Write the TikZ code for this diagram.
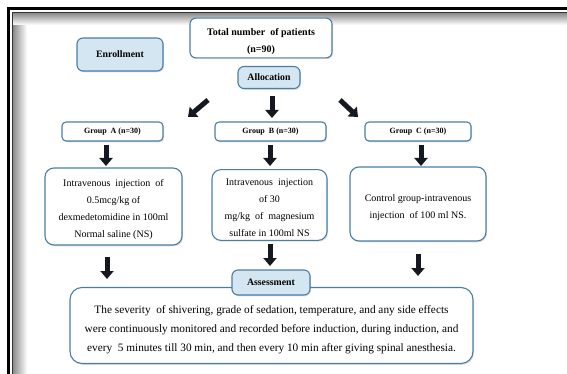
\documentclass[tikz,border=0pt]{standalone}
\usepackage{fontspec}
\setmainfont{Liberation Serif}
\usetikzlibrary{arrows.meta,shadows,calc}
\definecolor{bord}{HTML}{4A7EA5}
\definecolor{lfill}{HTML}{D3E6F2}
\definecolor{arr}{HTML}{141820}
\newcommand{\mytopstrut}[1]{\rule{0pt}{#1}}
\tikzset{
  box/.style={draw=bord, line width=1.1pt, rounded corners=6pt, fill=white, align=center,
    drop shadow={opacity=0.28, shadow xshift=1pt, shadow yshift=-1.3pt}},
  lbox/.style={box, fill=lfill, font=\bfseries\fontsize{9.8}{11}\selectfont},
  gbox/.style={box, rounded corners=4pt, font=\bfseries\fontsize{8}{9}\selectfont},
  ibox/.style={box, rounded corners=9pt, font=\fontsize{10}{17}\selectfont},
  blockarrow/.style={arr, line width=5pt, -{Triangle[width=13pt,length=8pt]}},
}
\begin{document}
\begin{tikzpicture}[x=1pt,y=-1pt]
\useasboundingbox (0,0) rectangle (567,374);
% frame
\shade[left color=black!45, right color=white] (13,13) rectangle (27,374);
\shade[top color=black!45, bottom color=white] (13,13) rectangle (567,25);
\draw[black, line width=2.5pt] (8.5,374) -- (8.5,8.5) -- (567,8.5);
\draw[black!80, line width=0.8pt] (12.5,374) -- (12.5,12.5) -- (567,12.5);
% nodes
\node[box, minimum width=142pt, minimum height=36pt, font=\bfseries\fontsize{10}{17}\selectfont] (total) at (261,38) {\mytopstrut{14pt}Total number\ \ of patients\\(n=90)};
\node[lbox, minimum width=86pt, minimum height=33pt] (enr) at (120,54.5) {Enrollment};
\node[lbox, minimum width=62pt, minimum height=22pt] (alloc) at (269,77.5) {Allocation};
\node[gbox, minimum width=101pt, minimum height=19pt] (gA) at (112.5,131.5) {Group\ \ A (n=30)};
\node[gbox, minimum width=111pt, minimum height=19pt] (gB) at (270.5,131.5) {Group\ \ B (n=30)};
\node[gbox, minimum width=106pt, minimum height=19pt] (gC) at (418,131.5) {Group\ \ C (n=30)};
\node[ibox, minimum width=137pt, minimum height=77pt] (iA) at (113.5,206.5) {\mytopstrut{13pt}Intravenous\ \ injection\ \ of\\0.5mcg/kg of\\dexmedetomidine in 100ml\\Normal saline (NS)};
\node[ibox, minimum width=115pt, minimum height=70pt] (iB) at (269.5,205) {\mytopstrut{13pt}Intravenous\ \ injection\\of 30\\mg/kg\ \ of\ \ magnesium\\sulfate in 100ml NS};
\node[ibox, minimum width=136pt, minimum height=74pt] (iC) at (418,204) {\mytopstrut{14pt}Control group-intravenous\\injection\ \ of 100 ml NS.};
\node[ibox, rounded corners=12pt, minimum width=403pt, minimum height=76pt, font=\fontsize{11.3}{19}\selectfont] (big) at (271.5,325.5) {\mytopstrut{16pt}The severity\ \ of shivering, grade of sedation, temperature, and any side effects\\were continuously monitored and recorded before induction, during induction, and\\every\ \ 5 minutes till 30 min, and then every 10 min after giving spinal anesthesia.};
\node[lbox, minimum width=78pt, minimum height=25pt] (assess) at (271,282.5) {Assessment};
% arrows
\coordinate (dl1) at (208,100); \coordinate (dl2) at (188,117);
\coordinate (dm1) at (272,96); \coordinate (dm2) at (272,118);
\coordinate (dr1) at (340,100); \coordinate (dr2) at (358,117);
\draw[blockarrow] (dl1) -- (dl2);
\draw[blockarrow] (dm1) -- (dm2);
\draw[blockarrow] (dr1) -- (dr2);
\coordinate (a1) at (106,145); \coordinate (a2) at (106,166);
\coordinate (b1) at (270,145); \coordinate (b2) at (270,166);
\coordinate (c1) at (421,145); \coordinate (c2) at (421,166);
\draw[blockarrow] (a1) -- (a2);
\draw[blockarrow] (b1) -- (b2);
\draw[blockarrow] (c1) -- (c2);
\coordinate (a3) at (107,257); \coordinate (a4) at (107,279);
\coordinate (b3) at (270,244); \coordinate (b4) at (270,266);
\coordinate (c3) at (418,254); \coordinate (c4) at (418,276);
\draw[blockarrow] (a3) -- (a4);
\draw[blockarrow] (b3) -- (b4);
\draw[blockarrow] (c3) -- (c4);
\end{tikzpicture}
\end{document}
